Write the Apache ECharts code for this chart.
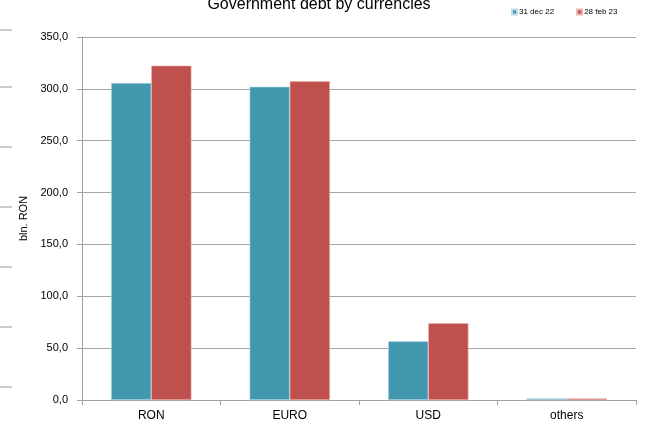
<!DOCTYPE html>
<html>
<head>
<meta charset="utf-8">
<script src="https://cdn.jsdelivr.net/npm/echarts@6/dist/echarts.min.js"></script>
<style>
  html, body { margin: 0; padding: 0; background: #fff; }
  #chart { width: 649px; height: 428px; }
</style>
</head>
<body>
<div id="chart"></div>
<script>
// Government debt by currency, bln. RON
const categories = ['RON', 'EURO', 'USD', 'others'];
const seriesNames = ['31 dec 22', '28 feb 23'];
const debtDec22 = [305.7, 302.1, 56.6, 1.5];
const debtFeb23 = [322.4, 307.3, 74.0, 1.4];
const yTicks = { min: 0, max: 350, interval: 50 };

const chart = echarts.init(document.getElementById('chart'), null, { renderer: 'canvas' });

// short gray dashes along the left page edge
const edgeMarks = [30, 87, 147, 207, 267, 327, 387].map(y => ({
  type: 'line',
  shape: { x1: 0, y1: y, x2: 12, y2: y },
  style: { stroke: '#9a9a9a', lineWidth: 1 },
  silent: true
}));

chart.setOption({
  animation: false,
  backgroundColor: '#fff',
  title: {
    text: 'Government debt by currencies',
    left: 314,
    top: -8,
    textAlign: 'center',
    textStyle: { fontFamily: 'Liberation Sans, Arial', fontSize: 16, fontWeight: 'normal', color: '#000' }
  },
  legend: {
    data: seriesNames,
    left: 506,
    top: 3,
    itemWidth: 5,
    itemHeight: 5,
    itemGap: 22,
    icon: 'rect',
    textStyle: { fontFamily: 'Liberation Sans, Arial', fontSize: 8, color: '#000', padding: [0, 0, 0, -3] }
  },
  graphic: edgeMarks,
  grid: { left: 82, right: 13, top: 37, bottom: 28, containLabel: false },
  xAxis: {
    type: 'category',
    data: categories,
    axisLine: { lineStyle: { color: '#a0a0a0' } },
    axisTick: { show: true, length: 5, lineStyle: { color: '#a0a0a0' } },
    axisLabel: { fontFamily: 'Liberation Sans, Arial', fontSize: 12, color: '#000', margin: 10 }
  },
  yAxis: {
    type: 'value',
    min: yTicks.min,
    max: yTicks.max,
    interval: yTicks.interval,
    name: 'bln. RON',
    nameLocation: 'middle',
    nameGap: 52,
    nameRotate: 90,
    nameTextStyle: { fontFamily: 'Liberation Sans, Arial', fontSize: 11, color: '#000' },
    axisLine: { show: true, lineStyle: { color: '#a0a0a0' } },
    axisTick: { show: true, length: 5, lineStyle: { color: '#a0a0a0' } },
    splitLine: { lineStyle: { color: '#a8a8a8' } },
    axisLabel: {
      fontFamily: 'Liberation Sans, Arial',
      fontSize: 11,
      color: '#000',
      margin: 14,
      formatter: v => v.toFixed(1).replace('.', ',')
    }
  },
  series: [
    {
      name: seriesNames[0],
      type: 'bar',
      data: debtDec22,
      barGap: '0%',
      barCategoryGap: '42%',
      itemStyle: { color: '#4398AF', borderColor: '#b9dbe4', borderWidth: 0.6 }
    },
    {
      name: seriesNames[1],
      type: 'bar',
      data: debtFeb23,
      itemStyle: { color: '#C0504D', borderColor: '#e6b1af', borderWidth: 0.6 }
    }
  ]
});
</script>
</body>
</html>
